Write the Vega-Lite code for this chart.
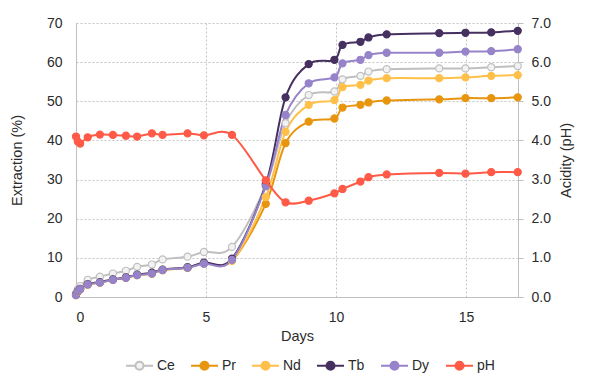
{
  "$schema": "https://vega.github.io/schema/vega-lite/v6.json",
  "width": 442,
  "height": 274,
  "autosize": "none",
  "padding": {"left": 76, "top": 23, "right": 72, "bottom": 92},
  "background": "#FFFFFF",
  "config": {
    "font": "Liberation Sans",
    "view": {"stroke": null},
    "axis": {
      "labelFontSize": 14,
      "titleFontSize": 14.5,
      "titleFontWeight": "normal",
      "labelColor": "#2B2B2B",
      "titleColor": "#2B2B2B",
      "domainColor": "#BFBFBF",
      "tickColor": "#BFBFBF",
      "gridColor": "#C4C4C4",
      "gridDash": [2, 2],
      "gridWidth": 1
    },
    "legend": {"labelFontSize": 14, "labelColor": "#2B2B2B", "padding": 0}
  },
  "data": {
    "values": [
      {"d": 0, "Ce": 1.0, "Pr": 0.5, "Nd": 0.5, "Tb": 0.6, "Dy": 0.5, "pH": 4.10},
      {"d": 0.07, "Ce": 2.0, "Pr": 1.4, "Nd": 1.4, "Tb": 1.5, "Dy": 1.4, "pH": 3.97},
      {"d": 0.16, "Ce": 2.8, "Pr": 2.0, "Nd": 2.0, "Tb": 2.1, "Dy": 2.0, "pH": 3.92},
      {"d": 0.45, "Ce": 4.4, "Pr": 3.2, "Nd": 3.2, "Tb": 3.3, "Dy": 3.2, "pH": 4.08},
      {"d": 0.92, "Ce": 5.2, "Pr": 3.7, "Nd": 3.7, "Tb": 3.8, "Dy": 3.7, "pH": 4.15},
      {"d": 1.42, "Ce": 6.0, "Pr": 4.4, "Nd": 4.4, "Tb": 4.5, "Dy": 4.4, "pH": 4.14},
      {"d": 1.92, "Ce": 6.7, "Pr": 4.9, "Nd": 4.9, "Tb": 5.0, "Dy": 4.9, "pH": 4.12},
      {"d": 2.35, "Ce": 7.7, "Pr": 5.6, "Nd": 5.6, "Tb": 5.7, "Dy": 5.6, "pH": 4.10},
      {"d": 2.92, "Ce": 8.3, "Pr": 6.0, "Nd": 6.0, "Tb": 6.2, "Dy": 6.0, "pH": 4.18},
      {"d": 3.33, "Ce": 9.6, "Pr": 6.9, "Nd": 6.9, "Tb": 7.0, "Dy": 6.9, "pH": 4.14},
      {"d": 4.29, "Ce": 10.3, "Pr": 7.5, "Nd": 7.5, "Tb": 7.6, "Dy": 7.5, "pH": 4.18},
      {"d": 4.92, "Ce": 11.5, "Pr": 8.6, "Nd": 8.6, "Tb": 8.8, "Dy": 8.5, "pH": 4.13},
      {"d": 6.0, "Ce": 12.8, "Pr": 9.3, "Nd": 9.3, "Tb": 9.8, "Dy": 9.5, "pH": 4.14},
      {"d": 7.3, "Ce": 28.5, "Pr": 23.8, "Nd": 25.5, "Tb": 28.8, "Dy": 28.3, "pH": 2.98},
      {"d": 8.06, "Ce": 44.4, "Pr": 39.3, "Nd": 42.2, "Tb": 51.0, "Dy": 46.5, "pH": 2.42},
      {"d": 8.95, "Ce": 51.6, "Pr": 44.8, "Nd": 49.1, "Tb": 59.5, "Dy": 54.6, "pH": 2.46},
      {"d": 9.94, "Ce": 52.5, "Pr": 45.6, "Nd": 50.3, "Tb": 60.6, "Dy": 56.1, "pH": 2.65},
      {"d": 10.25, "Ce": 55.6, "Pr": 48.4, "Nd": 53.6, "Tb": 64.4, "Dy": 59.7, "pH": 2.76},
      {"d": 10.94, "Ce": 56.5, "Pr": 49.1, "Nd": 54.2, "Tb": 65.2, "Dy": 60.6, "pH": 2.95},
      {"d": 11.25, "Ce": 57.6, "Pr": 49.7, "Nd": 55.3, "Tb": 66.3, "Dy": 61.8, "pH": 3.06},
      {"d": 11.95, "Ce": 58.2, "Pr": 50.2, "Nd": 55.9, "Tb": 67.1, "Dy": 62.4, "pH": 3.13},
      {"d": 13.97, "Ce": 58.4, "Pr": 50.5, "Nd": 55.9, "Tb": 67.4, "Dy": 62.4, "pH": 3.17},
      {"d": 14.98, "Ce": 58.4, "Pr": 50.8, "Nd": 56.1, "Tb": 67.5, "Dy": 62.7, "pH": 3.15},
      {"d": 15.97, "Ce": 58.7, "Pr": 50.8, "Nd": 56.5, "Tb": 67.6, "Dy": 62.8, "pH": 3.19},
      {"d": 16.99, "Ce": 59.0, "Pr": 51.0, "Nd": 56.7, "Tb": 68.0, "Dy": 63.3, "pH": 3.19}
    ]
  },
  "encoding": {
    "x": {
      "field": "d",
      "type": "quantitative",
      "scale": {"domain": [0, 17], "nice": false},
      "axis": {"values": [0, 5, 10, 15], "title": "Days", "ticks": false, "labelPadding": 13, "titlePadding": 5, "grid": true}
    },
    "color": {
      "field": "series",
      "type": "nominal",
      "scale": {
        "domain": ["Ce", "Pr", "Nd", "Tb", "Dy", "pH"],
        "range": ["#BFBFBF", "#E8950E", "#FFC04A", "#46305F", "#9683C9", "#FF5A48"]
      },
      "legend": {
        "orient": "none",
        "legendX": 49,
        "legendY": 328,
        "direction": "horizontal",
        "title": null,
        "symbolType": "M -1 0 L -0.3 0 M 0.3 0 L 1 0 M -0.3 0 A 0.3 0.3 0 1 1 0.3 0 A 0.3 0.3 0 1 1 -0.3 0 Z",
        "symbolSize": 729,
        "symbolStrokeWidth": 2,
        "labelOffset": 3,
        "columnPadding": 12,
        "encode": {"symbols": {"update": {"fill": {"scale": "fill", "field": "value"}}}}
      }
    }
  },
  "layer": [
    {
      "transform": [{"fold": ["Ce", "Pr", "Nd", "Tb", "Dy"], "as": ["series", "value"]}],
      "encoding": {
        "y": {
          "field": "value",
          "type": "quantitative",
          "scale": {"domain": [0, 70], "nice": false},
          "axis": {"values": [0, 10, 20, 30, 40, 50, 60, 70], "title": "Extraction (%)", "ticks": false, "labelPadding": 14, "titlePadding": 22, "grid": true}
        }
      },
      "layer": [
        {"mark": {"type": "line", "interpolate": "cardinal", "strokeWidth": 2}},
        {
          "mark": {"type": "point", "shape": "circle", "filled": false, "size": 50, "strokeWidth": 1.2, "opacity": 1},
          "encoding": {
            "fill": {
              "field": "series",
              "type": "nominal",
              "scale": {
                "domain": ["Ce", "Pr", "Nd", "Tb", "Dy", "pH"],
                "range": ["#F2F2F2", "#E8950E", "#FFC04A", "#46305F", "#9683C9", "#FF5A48"]
              },
              "legend": null
            }
          }
        }
      ]
    },
    {
      "transform": [{"fold": ["pH"], "as": ["series", "value"]}],
      "encoding": {
        "y": {
          "field": "value",
          "type": "quantitative",
          "scale": {"domain": [0, 7], "nice": false},
          "axis": {"orient": "right", "values": [0, 1, 2, 3, 4, 5, 6, 7], "format": ".1f", "title": "Acidity (pH)", "titleAngle": 270, "grid": false, "ticks": true, "tickSize": 5, "labelPadding": 8, "titlePadding": 23}
        }
      },
      "layer": [
        {"mark": {"type": "line", "interpolate": "cardinal", "strokeWidth": 2}},
        {
          "mark": {"type": "point", "shape": "circle", "filled": false, "size": 50, "strokeWidth": 1.2, "opacity": 1},
          "encoding": {
            "fill": {
              "field": "series",
              "type": "nominal",
              "scale": {
                "domain": ["Ce", "Pr", "Nd", "Tb", "Dy", "pH"],
                "range": ["#F2F2F2", "#E8950E", "#FFC04A", "#46305F", "#9683C9", "#FF5A48"]
              },
              "legend": null
            }
          }
        }
      ]
    }
  ],
  "resolve": {"scale": {"y": "independent"}}
}
